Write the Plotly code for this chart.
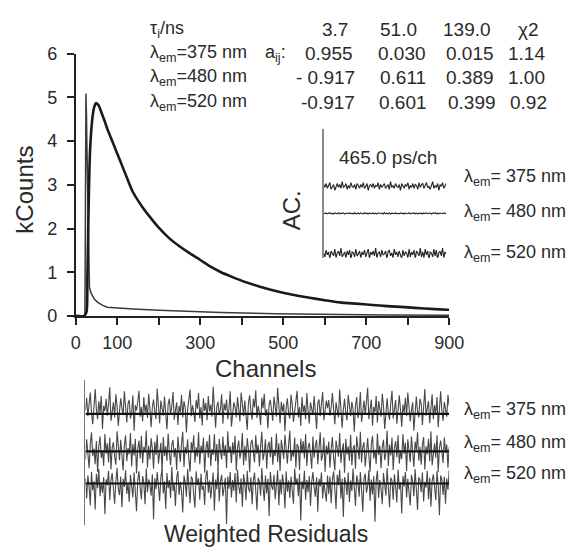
import plotly.graph_objects as go

W, H = 581, 557
FONT = "Liberation Sans, Arial, sans-serif"
TXT = "#2a2a2a"

# ---------------- data ----------------
ch_480 = [0, 20, 26, 28, 30, 32, 34, 37, 41, 45, 49, 55, 62, 70, 76, 90, 107, 125, 138, 160,
          180, 200, 225, 249, 275, 300, 326, 350, 375, 404, 440, 482, 520, 560, 600, 637, 675,
          715, 750, 793, 840, 894, 900]
kc_480 = [0, 0, 0.1, 0.9, 2.0, 3.0, 3.7, 4.2, 4.6, 4.8, 4.87, 4.82, 4.65, 4.45, 4.28, 3.95, 3.55,
          3.12, 2.83, 2.5, 2.25, 2.02, 1.78, 1.6, 1.43, 1.28, 1.12, 1.0, 0.9, 0.79, 0.68, 0.57,
          0.49, 0.42, 0.36, 0.31, 0.28, 0.25, 0.225, 0.2, 0.17, 0.14, 0.14]

ch_375 = [0, 22, 23.3, 24.5, 25.8, 27, 28.5, 30, 31.3, 33, 37, 45, 53, 65, 76, 100, 138, 200,
          250, 350, 480, 600, 750, 900]
kc_375 = [0, 0, 2.5, 5.09, 4.6, 3.8, 2.9, 1.5, 0.85, 0.65, 0.52, 0.38, 0.31, 0.24, 0.2, 0.18,
          0.16, 0.13, 0.11, 0.08, 0.05, 0.03, 0.02, 0.015]

x_tick_vals = [0, 100, 200, 300, 400, 500, 600, 700, 800, 900]
x_tick_text = ["0", "100", "", "300", "", "500", "", "700", "", "900"]
y_tick_vals = [0, 1, 2, 3, 4, 5, 6]

res_375 = [0.6, 2.8, -0.4, 1.9, 3.7, 0.2, -1.8, 1.1, 4.3, 0.8, -0.9, 2.2, 0.1, 3.1, -2.6, 1.4, 0.5, 2.6, -0.3, 1.7,
           4.6, -1.2, 0.9, 2.0, -0.6, 3.4, 1.3, -2.1, 0.4, 2.7, 1.0, -0.2, 3.9, 0.7, -1.5, 1.8, 2.4, -0.8, 0.3, 3.2,
           -2.9, 1.5, 0.6, 2.1, 4.0, -0.5, 1.2, -1.3, 2.9, 0.2, 1.6, -0.7, 3.5, 0.9, -2.3, 1.1, 2.5, 0.4, -0.9, 4.4,
           0.8, -1.6, 2.3, 1.0, -0.3, 3.0, 0.5, -2.7, 1.7, 2.6, -0.1, 1.3, 3.8, -1.0, 0.6, 2.0, -1.9, 1.4, 0.2, 3.3,
           -0.6, 2.2, 1.1, -3.2, 0.7, 2.8, 4.2, -0.4, 1.5, 0.3, -1.4, 2.4, 0.9, 3.6, -0.8, 1.2, -2.0, 2.7, 0.5, 1.9,
           -1.1, 3.1, 0.4, 1.6, -0.5, 4.7, 0.8, -2.4, 1.3, 2.1, -0.2, 0.9, 3.4, -1.7, 1.8, 0.6, 2.5, -0.9, 1.0, 3.9,
           -2.2, 0.7, 2.0, 1.2, -0.6, 2.9, 0.3, -1.3, 3.7, 1.5, -0.4, 2.3, 0.1, -2.8, 1.9, 3.2, 0.6, -1.0, 2.6, 1.1,
           4.1, -0.7, 1.4, 0.2, -1.9, 2.8, 1.0, 3.5, -0.3, 0.8, -2.5, 1.7, 2.4, 0.5, -1.2, 3.0, 1.3, -0.5, 4.5, 0.9,
           -1.6, 2.1, 0.4, 1.8, -3.0, 1.1, 2.7, 0.0, -0.8, 3.3, 1.6, -1.4, 0.7, 2.2, 4.0, -0.6, 1.2, -2.1, 2.9, 0.3,
           1.5, -0.9, 3.6, 0.6, -1.7, 2.0, 1.0, -0.2, 3.1, 0.8, -2.6, 1.9, 2.5, -0.4, 1.3, 3.8, -1.1, 0.5, 2.3, 1.0,
           2.4, -0.3, 1.1, 3.6, 0.5, -1.8, 2.0, 0.9, -0.6, 4.2, 1.3, -2.4, 0.7, 2.6, 0.2, -1.1, 3.3, 1.6, -0.4, 2.1,
           0.8, -3.1, 1.5, 2.9, -0.7, 0.4, 3.8, -1.4, 1.0, 2.3, -0.2, 1.7, 4.5, -0.9, 0.6, 2.5, -2.0, 1.2, 0.3, 3.1,
           -1.5, 2.2, 0.9, -0.5, 3.5, 1.4, -2.6, 0.8, 2.7, 0.1, -1.0, 1.9, 4.0, -0.8, 1.1, 2.4, -1.7, 0.5, 3.2, 0.7,
           -2.2, 1.6, 0.2, 2.8, -0.4, 3.7, 1.0, -1.3, 0.6, 2.0, -2.9, 1.3, 3.0, 0.4, -0.6, 2.6, 1.8, -1.9, 0.9, 4.3,
           -0.3, 1.2, 2.2, -1.6, 0.7, 3.4, -0.9, 1.5, 0.0, 2.9, -2.3, 1.0, 3.9, 0.5, -1.2, 2.1, 0.8, -0.5, 3.3, 1.4]
res_480 = [-1.4, 2.1, -0.3, -2.9, 1.2, 3.3, -0.8, 0.5, -2.2, 1.8, -3.6, 0.9, 2.6, -1.1, 0.2, -2.5, 3.0, -0.4, 1.4, -1.9,
           2.4, -3.1, 0.7, 1.6, -0.9, -2.3, 3.5, 0.3, -1.5, 2.0, -0.2, -3.3, 1.1, 2.8, -1.7, 0.6, -0.5, 3.2, -2.6, 1.3,
           -0.7, 2.2, -3.8, 0.4, 1.9, -1.2, 2.7, -2.0, 0.8, -0.1, 3.6, -2.8, 1.0, -1.4, 2.3, 0.5, -3.0, 1.7, -0.6, 2.9,
           -2.1, 0.3, 1.5, -3.4, 2.5, -0.8, 0.9, -1.6, 3.1, -0.3, -2.4, 1.2, 2.0, -1.0, 0.6, -3.2, 2.6, 0.1, -1.8, 1.4,
           3.4, -2.7, 0.8, -0.4, 2.1, -1.3, -3.5, 1.6, 0.2, 2.8, -1.9, 0.7, -0.9, 3.3, -2.2, 1.0, -0.3, 2.4, -3.7, 0.5,
           1.8, -1.1, 2.9, -2.5, 0.4, -0.6, 3.0, -1.7, 1.3, -3.1, 2.2, 0.0, -1.4, 2.6, -0.8, 1.1, -2.9, 3.5, -0.2, 0.9,
           -2.0, 1.6, -0.5, 2.7, -3.3, 0.6, 1.9, -1.2, -0.1, 3.2, -2.4, 1.0, -1.6, 2.3, 0.4, -3.6, 1.5, 2.0, -0.7, -1.9,
           2.8, -0.4, 1.2, -2.6, 0.8, 3.4, -1.5, -0.2, 2.1, -3.0, 0.9, 1.7, -1.0, 2.5, -2.3, 0.3, -0.8, 3.1, -1.8, 1.4,
           -3.4, 2.0, 0.5, -1.3, 2.9, -0.6, -2.1, 1.1, 3.6, -1.7, 0.2, -0.9, 2.4, -2.8, 1.3, 0.7, -3.2, 2.2, -0.3, 1.8,
           -1.2, 3.0, -2.5, 0.6, 1.5, -0.4, -3.0, 2.6, -1.1, 0.9, 2.0, -2.2, 0.3, 3.3, -1.6, -0.7, 2.4, -3.5, 1.0, -0.5,
           1.7, -2.8, 0.4, 2.5, -1.1, -3.3, 1.9, 0.6, -0.9, 3.2, -2.0, 0.2, 1.4, -3.7, 2.2, -0.5, 0.9, -1.6, 2.9, -2.4,
           0.5, 1.1, -3.0, 2.6, -0.3, -1.4, 3.4, -1.9, 0.8, 1.6, -2.6, 0.1, 2.3, -0.8, -3.5, 1.3, 2.7, -1.2, 0.3, -2.2,
           3.1, -0.6, 1.0, -2.9, 0.7, 2.0, -1.5, -0.2, 3.6, -2.5, 1.2, -0.7, 2.4, -3.2, 0.6, 1.8, -1.0, 2.8, -2.1, 0.0,
           -1.3, 3.0, -0.4, 1.5, -3.4, 2.1, 0.4, -1.8, 2.6, -0.9, -2.7, 1.7, 0.2, 3.3, -1.6, 0.8, -2.3, 1.1, 2.5, -3.1,
           0.9, -0.5, 2.2, -1.7, 3.5, -2.4, 0.3, 1.4, -1.1, 2.8, -3.6, 0.6, 1.9, -0.8, -2.0, 2.4, -0.2, 1.2, -2.8, 0.7]
res_520 = [0.9, -2.6, 1.4, -0.5, -3.8, 2.0, -1.2, 0.4, -4.5, 1.7, -0.8, 2.5, -2.2, 0.2, -1.6, 1.1, -5.3, 0.7, -0.3, 2.2,
           -2.9, 0.6, 1.8, -1.4, -3.5, 0.3, 2.7, -0.9, -2.0, 1.2, -4.1, 0.8, -0.6, 2.3, -1.8, 0.1, -3.2, 1.5, -0.4, -2.4,
           1.9, -1.1, -4.8, 0.5, 2.1, -0.7, -2.7, 1.3, 0.2, -3.6, 2.6, -1.5, 0.7, -0.2, -2.1, 1.6, -6.2, 0.9, -1.0, 2.0,
           -0.5, -3.0, 1.1, 2.4, -1.7, 0.4, -4.4, 1.8, -0.8, 0.6, -2.5, 2.9, -1.3, -0.1, -3.9, 1.0, 2.2, -2.0, 0.3, -1.4,
           -5.0, 1.4, 0.2, -2.3, 2.5, -0.6, -3.4, 1.2, 0.8, -1.9, -4.2, 2.1, -0.3, 0.9, -2.8, 1.7, -1.1, -0.4, -3.7, 1.3,
           2.3, -1.6, 0.5, -2.6, -0.2, 1.9, -4.7, 0.7, -1.0, 2.6, -3.1, 0.4, 1.5, -2.2, -0.7, 1.0, -7.0, 1.2, -0.9, 2.0,
           -2.4, 0.6, -1.3, 1.8, -3.3, 2.4, -0.5, -1.8, 0.9, -4.0, 1.6, 0.1, -2.9, 2.2, -0.8, -1.5, 1.1, -3.6, 0.5, 1.9,
           -1.2, -4.6, 1.0, 0.3, -2.1, 2.7, -0.6, -3.0, 1.4, -1.7, 0.8, -5.6, 2.0, -0.4, -1.1, 1.5, -2.7, 0.2, 2.3, -3.8,
           0.7, -1.9, 1.6, -0.3, -4.3, 2.1, -1.4, 0.5, -2.5, 1.2, -0.9, -3.5, 2.6, -0.2, 0.9, -2.2, 1.7, -6.4, 0.4, -1.0,
           2.2, -2.8, 0.6, -1.5, 1.3, -3.9, 0.3, 2.0, -0.7, -2.3, 1.1, -4.9, 0.8, -0.5, 1.9, -2.6, 0.2, -1.2, -3.1, 1.4,
           -1.8, 1.2, -3.4, 0.6, 2.1, -0.9, -4.4, 1.5, -0.3, 2.4, -2.6, 0.8, -5.8, 1.1, 0.2, -2.0, 1.9, -3.2, 0.5, -1.3,
           2.6, -0.7, -3.9, 1.4, 0.3, -2.3, 2.0, -1.1, -4.9, 0.9, 1.7, -1.6, -0.4, 2.3, -3.0, 0.7, -1.9, 1.3, -6.6, 0.4,
           2.2, -2.5, 0.6, -0.8, -3.6, 1.8, 0.1, -2.1, 2.7, -1.4, -4.1, 1.0, 0.5, -2.8, 1.6, -0.6, -3.3, 2.4, -1.0, 0.2,
           -5.2, 1.3, -0.5, 2.0, -2.4, 0.8, -1.7, -3.8, 1.5, 0.4, -2.2, 2.5, -0.9, -4.6, 1.1, 0.6, -1.5, 1.9, -3.1, 0.3,
           -0.7, 2.2, -2.7, 1.0, -4.0, 0.5, 1.6, -1.2, -2.9, 2.1, -0.4, -5.5, 1.4, 0.7, -2.0, 1.2, -3.5, 0.9, -1.1, 2.3]

ac_375 = [0.02, -0.01, 0.03, -0.02, 0.01, 0.04, -0.03, 0.00, 0.02, -0.04, 0.01, 0.03, -0.01, 0.02, -0.02, 0.05, -0.01, 0.00, 0.03, -0.03,
          0.01, -0.02, 0.04, 0.00, -0.01, 0.02, -0.03, 0.03, 0.01, -0.02, 0.02, -0.01, 0.04, -0.02, 0.00, 0.03, -0.04, 0.01, 0.02, -0.01,
          0.03, -0.02, 0.01, 0.00, 0.04, -0.03, 0.02, -0.01, 0.01, 0.03, -0.02, 0.00, 0.02, -0.03, 0.05, -0.01, 0.01, -0.02, 0.03, 0.00,
          -0.01, 0.02, -0.04, 0.03, 0.01, -0.02, 0.02, 0.00, 0.04, -0.03, 0.01, -0.01, 0.03, -0.02, 0.02, 0.01, -0.03, 0.04, -0.01, 0.02,
          0.03, -0.02, 0.01, 0.04, -0.01, 0.00, -0.03, 0.02, 0.05, -0.02, 0.01, -0.01, 0.03, -0.04, 0.02, 0.00, 0.04, -0.02, 0.01, 0.03]
ac_480 = [0.004, -0.003, 0.006, -0.005, 0.002, 0.008, -0.004, 0.001, -0.006, 0.005, 0.000, -0.002, 0.007, -0.005, 0.003, -0.001, 0.006, -0.007, 0.002, 0.004,
          -0.003, 0.005, -0.002, 0.001, -0.006, 0.008, -0.004, 0.002, 0.003, -0.005, 0.006, -0.001, -0.004, 0.007, -0.003, 0.002, -0.006, 0.004, 0.001, -0.002,
          0.005, -0.004, 0.003, -0.007, 0.006, 0.000, -0.003, 0.004, -0.005, 0.009, -0.002, 0.001, -0.004, 0.005, -0.006, 0.003, 0.002, -0.003, 0.007, -0.004,
          0.001, -0.005, 0.006, -0.002, 0.003, -0.006, 0.004, 0.000, -0.003, 0.008, -0.005, 0.002, -0.001, 0.005, -0.004, 0.003, -0.006, 0.004, -0.002, 0.003,
          -0.004, 0.005, -0.002, 0.006, -0.003, 0.001, 0.004, -0.006, 0.003, -0.001, 0.007, -0.004, 0.002, -0.005, 0.004, 0.000, -0.003, 0.006, -0.002, 0.003]
ac_520 = [0.01, -0.03, 0.04, -0.01, 0.02, -0.05, 0.03, 0.00, -0.02, 0.05, -0.04, 0.01, 0.03, -0.02, 0.06, -0.03, 0.00, 0.02, -0.04, 0.03,
          -0.01, 0.04, -0.06, 0.02, 0.01, -0.03, 0.05, -0.02, 0.00, 0.03, -0.04, 0.02, -0.01, 0.04, -0.03, 0.01, 0.05, -0.05, 0.02, -0.01,
          0.03, -0.02, 0.06, -0.04, 0.01, 0.02, -0.03, 0.04, -0.01, 0.00, 0.03, -0.05, 0.02, 0.04, -0.02, 0.01, -0.04, 0.05, -0.01, 0.02,
          -0.03, 0.03, 0.00, -0.05, 0.04, -0.02, 0.02, 0.01, -0.04, 0.05, -0.03, 0.02, -0.01, 0.04, -0.05, 0.03, 0.01, -0.02, 0.06, -0.03,
          0.02, -0.04, 0.05, -0.01, 0.03, -0.06, 0.02, 0.01, -0.03, 0.05, -0.02, 0.04, -0.05, 0.01, 0.03, -0.02, 0.06, -0.04, 0.02, 0.00]

table_header = ["3.7", "51.0", "139.0", "χ2"]
table_rows = [["0.955", "0.030", "0.015", "1.14"],
              ["- 0.917", "0.611", "0.389", "1.00"],
              ["-0.917", "0.601", "0.399", "0.92"]]
row_labels = ["λ<sub>em</sub>=375 nm", "λ<sub>em</sub>=480 nm", "λ<sub>em</sub>=520 nm"]
side_labels = ["λ<sub>em</sub>= 375 nm", "λ<sub>em</sub>= 480 nm", "λ<sub>em</sub>= 520 nm"]

# ---------------- helpers ----------------
def px(x):
    return x / W

def py(y):
    return 1 - y / H

fig = go.Figure()

# main decay curves
fig.add_trace(go.Scatter(x=ch_375, y=kc_375, mode="lines",
                         line=dict(color="#3a3a3a", width=1.5), xaxis="x", yaxis="y"))
fig.add_trace(go.Scatter(x=ch_480, y=kc_480, mode="lines", line_shape="spline",
                         line=dict(color="#1a1a1a", width=2.6, smoothing=0.6), xaxis="x", yaxis="y"))

# residuals
res_offsets = [0.0, -6.5, -12.05]
for arr, off in zip([res_375, res_480, res_520], res_offsets):
    fig.add_trace(go.Scatter(x=list(range(len(arr))), y=[v + off for v in arr], mode="lines",
                             line=dict(color="rgba(20,20,20,0.78)", width=1.1),
                             xaxis="x2", yaxis="y2"))
for arr, off in zip([res_375, res_480, res_520], res_offsets):
    fig.add_trace(go.Scatter(x=[0, len(arr) - 1], y=[off, off], mode="lines",
                             line=dict(color="#111", width=2.2), xaxis="x2", yaxis="y2"))

# autocorrelation inset
ac_offsets = [-0.60, -0.88, -1.30]
for arr, off in zip([ac_375, ac_480, ac_520], ac_offsets):
    fig.add_trace(go.Scatter(x=list(range(len(arr))), y=[v + off for v in arr], mode="lines",
                             line=dict(color="#222", width=1.1), xaxis="x3", yaxis="y3"))

axis_common = dict(showgrid=False, zeroline=False, showline=True, linecolor="#222",
                   linewidth=2, ticks="outside", ticklen=7, tickwidth=2, tickcolor="#222",
                   tickfont=dict(family=FONT, size=18, color=TXT))

fig.update_layout(
    width=W, height=H, margin=dict(l=0, r=0, t=0, b=0),
    paper_bgcolor="white", plot_bgcolor="white", showlegend=False,
    xaxis=dict(domain=[px(73.3), px(460)], range=[0, 900], anchor="y",
               tickvals=x_tick_vals, ticktext=x_tick_text, ticklabelstandoff=2, **axis_common),
    yaxis=dict(domain=[py(317.3), py(45.4)], range=[0, 6], anchor="x",
               tickvals=y_tick_vals, ticklabelstandoff=6, **axis_common),
    xaxis2=dict(domain=[px(83.3), px(460)], range=[0, len(res_375) - 1], anchor="y2",
                visible=False),
    yaxis2=dict(domain=[py(534), py(384)], range=[-19.2, 5.83], anchor="x2",
                showgrid=False, zeroline=False, showticklabels=False, ticks="",
                showline=True, linecolor="#777", linewidth=1),
    xaxis3=dict(domain=[px(330), px(457)], range=[0, len(ac_375) - 1], anchor="y3",
                visible=False),
    yaxis3=dict(domain=[py(257), py(123)], range=[-1.34, 0], anchor="x3",
                showgrid=False, zeroline=False, showticklabels=False, ticks="",
                showline=True, linecolor="#888", linewidth=1.5),
)

ann = []

def text(x, y, s, size=19, xanchor="center", angle=0):
    ann.append(dict(x=px(x), y=py(y), xref="paper", yref="paper", text=s, showarrow=False,
                    xanchor=xanchor, yanchor="middle", textangle=angle,
                    font=dict(family=FONT, size=size, color=TXT)))

# table
text(148, 20, "τ<sub>i</sub>/ns", size=18, xanchor="left")
for i, lab in enumerate(row_labels):
    text(148, [45, 70, 96][i], lab, size=18, xanchor="left")
text(267, 45, "a<sub>ij</sub>:", size=18, xanchor="left")
col_x_head = [342, 408, 478, 542]
for s, xx in zip(table_header, col_x_head):
    text(xx, 20, s)
col_x_rows = [[336, 411, 482, 540], [332, 412, 482, 540], [334, 412, 484, 542]]
for r, (row, xs) in enumerate(zip(table_rows, col_x_rows)):
    for s, xx in zip(row, xs):
        text(xx, [45, 70, 96][r], s)

# axis titles and labels
text(20, 186, "kCounts", size=24, angle=-90)
text(270, 372, "Channels", size=24)
text(270, 544, "Weighted Residuals", size=23)
text(297, 208, "AC.", size=24, angle=-90)
text(397, 153, "465.0 ps/ch", size=19)
for lab, yy in zip(side_labels, [174, 210, 253]):
    text(473, yy, lab, size=18, xanchor="left")
for lab, yy in zip(side_labels, [415, 450, 482]):
    text(473, yy, lab, size=18, xanchor="left")

fig.update_layout(annotations=ann)
fig.write_html("out.html")
